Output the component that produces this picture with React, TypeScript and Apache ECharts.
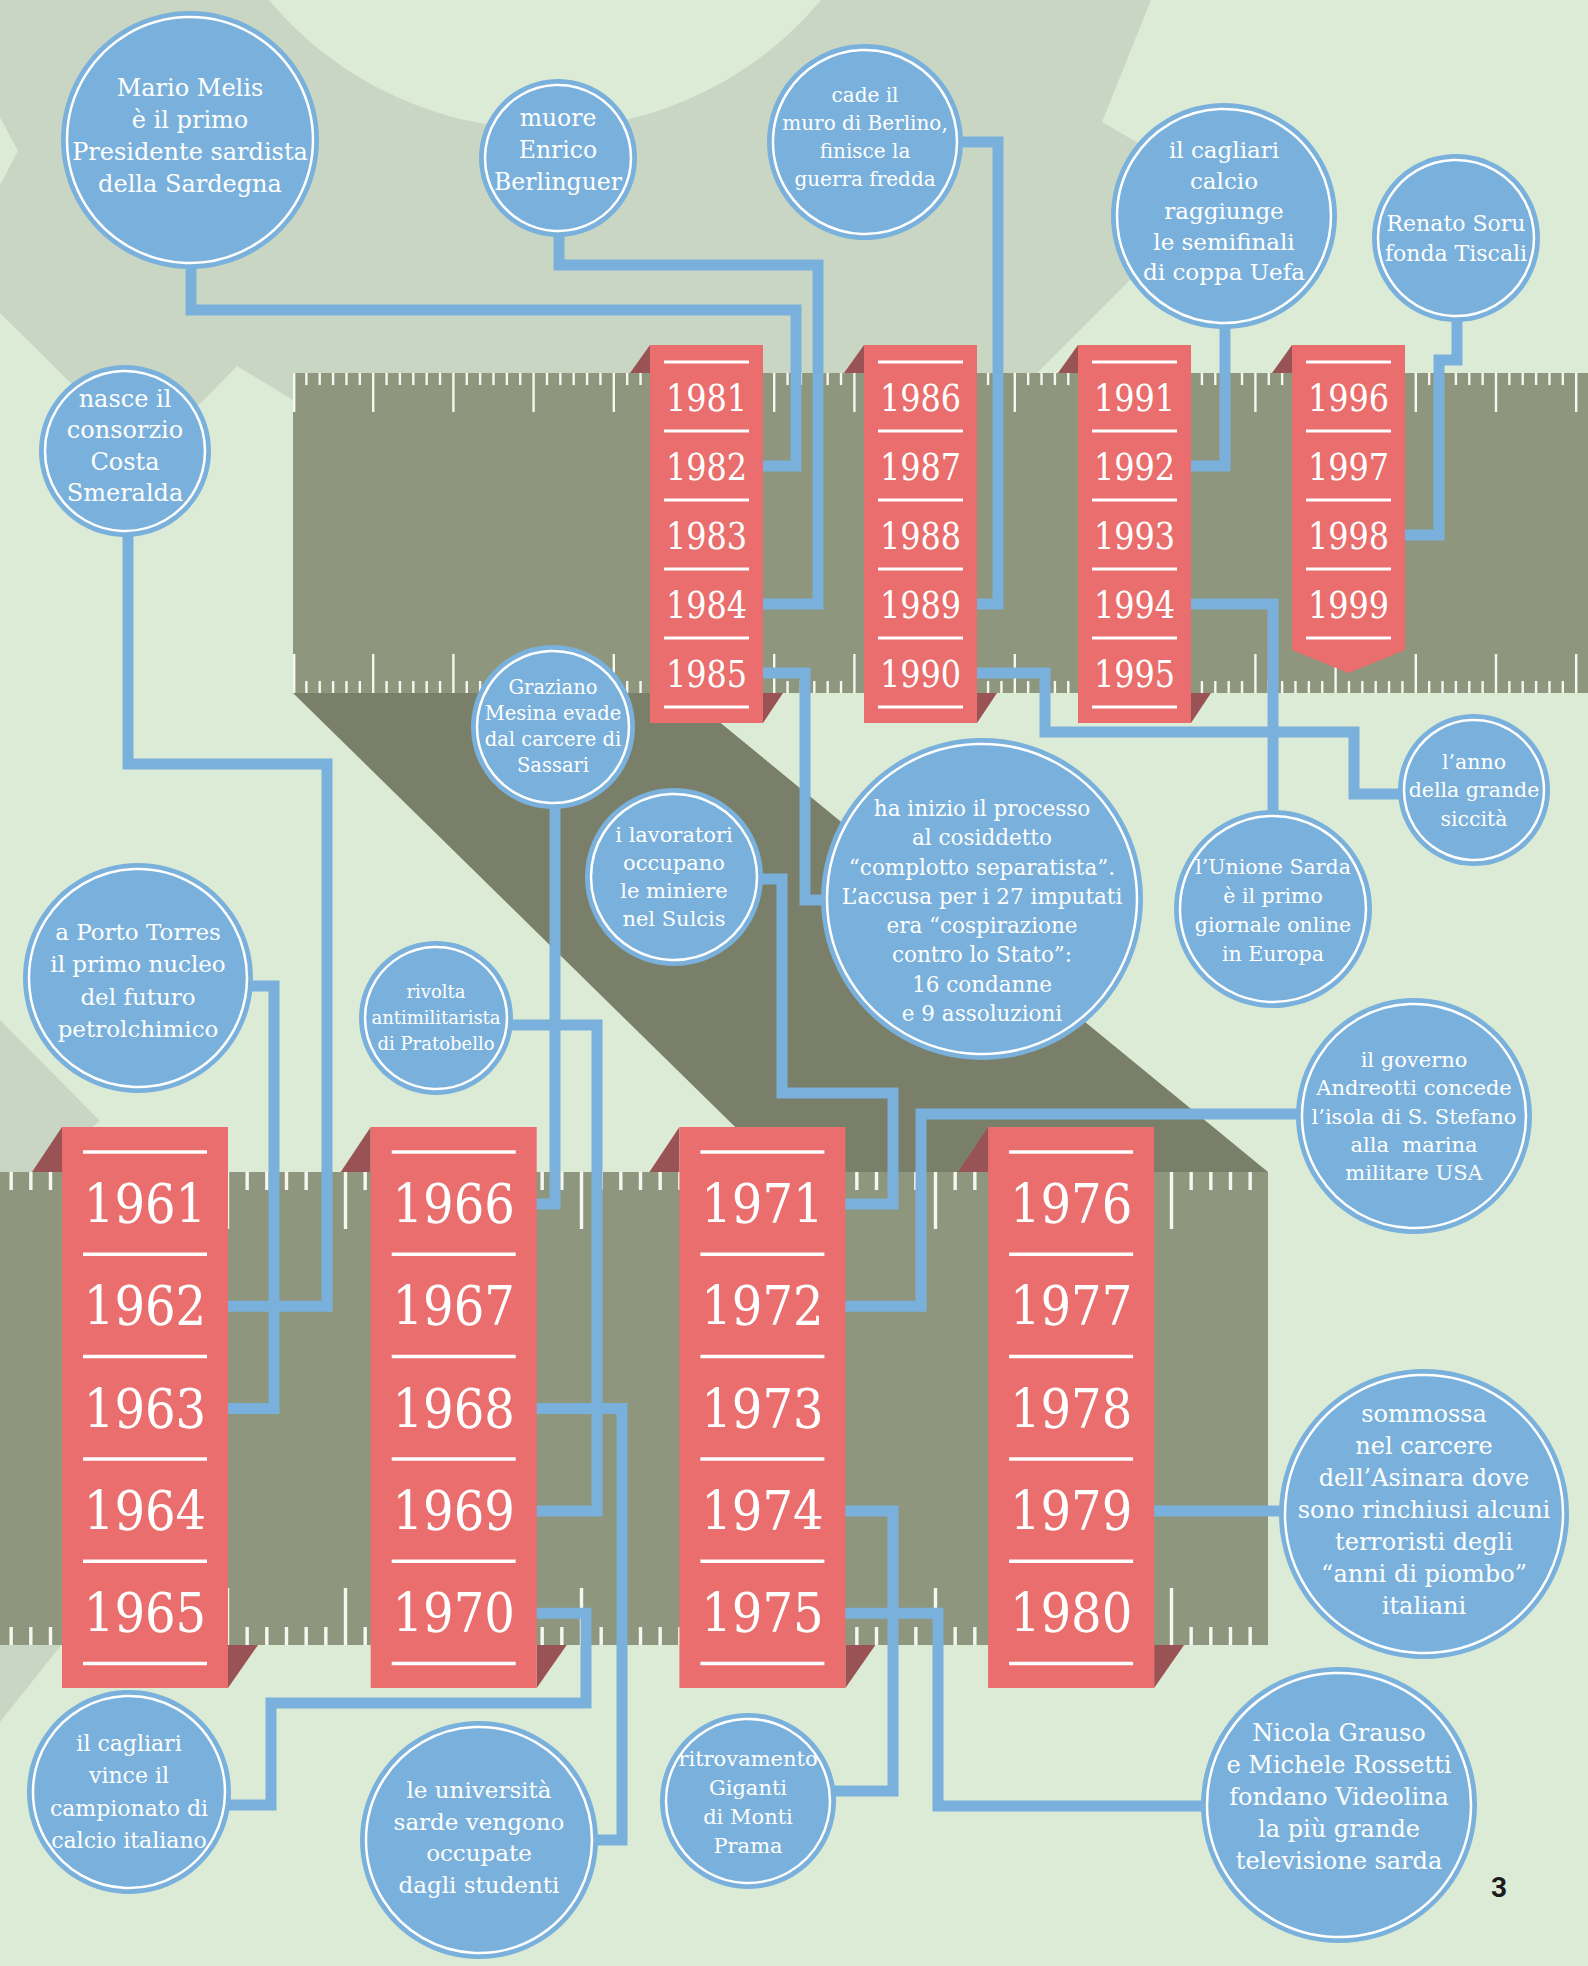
import React, { useEffect, useRef } from "react";
import * as echarts from "echarts";

// ---------------- data ----------------
const topYearGroups: number[][] = [
  [1981, 1982, 1983, 1984, 1985],
  [1986, 1987, 1988, 1989, 1990],
  [1991, 1992, 1993, 1994, 1995],
  [1996, 1997, 1998, 1999],
];
const bottomYearGroups: number[][] = [
  [1961, 1962, 1963, 1964, 1965],
  [1966, 1967, 1968, 1969, 1970],
  [1971, 1972, 1973, 1974, 1975],
  [1976, 1977, 1978, 1979, 1980],
];
const eventYears: number[] = [
  1982, 1984, 1989, 1992, 1998, 1962, 1966, 1971, 1985, 1994, 1990, 1963, 1969, 1972, 1979, 1970, 1968, 1974, 1975,
];
const eventTexts: string[][] = [
  ["Mario Melis", "è il primo", "Presidente sardista", "della Sardegna"],
  ["muore", "Enrico", "Berlinguer"],
  ["cade il", "muro di Berlino,", "finisce la", "guerra fredda"],
  ["il cagliari", "calcio", "raggiunge", "le semifinali", "di coppa Uefa"],
  ["Renato Soru", "fonda Tiscali"],
  ["nasce il", "consorzio", "Costa", "Smeralda"],
  ["Graziano", "Mesina evade", "dal carcere di", "Sassari"],
  ["i lavoratori", "occupano", "le miniere", "nel Sulcis"],
  [
    "ha inizio il processo",
    "al cosiddetto",
    "“complotto separatista”.",
    "L’accusa per i 27 imputati",
    "era “cospirazione",
    "contro lo Stato”:",
    "16 condanne",
    "e 9 assoluzioni",
  ],
  ["l’Unione Sarda", "è il primo", "giornale online", "in Europa"],
  ["l’anno", "della grande", "siccità"],
  ["a Porto Torres", "il primo nucleo", "del futuro", "petrolchimico"],
  ["rivolta", "antimilitarista", "di Pratobello"],
  ["il governo", "Andreotti concede", "l’isola di S. Stefano", "alla  marina", "militare USA"],
  [
    "sommossa",
    "nel carcere",
    "dell’Asinara dove",
    "sono rinchiusi alcuni",
    "terroristi degli",
    "“anni di piombo”",
    "italiani",
  ],
  ["il cagliari", "vince il", "campionato di", "calcio italiano"],
  ["le università", "sarde vengono", "occupate", "dagli studenti"],
  ["ritrovamento", "Giganti", "di Monti", "Prama"],
  ["Nicola Grauso", "e Michele Rossetti", "fondano Videolina", "la più grande", "televisione sarda"],
];
const pageNumber = "3";

// ---------------- layout / style ----------------
const W = 1588;
const H = 1966;
const BG = "#dcebd5";
const GEAR = "#cad6c4";
const RULER = "#8e967e";
const SHADOW = "#7a7f6a";
const RIBBON = "#ea6e6d";
const FOLD = "#9a5355";
const BLUE = "#7ab1dc";
const WHITE = "#ffffff";
const TICK = "#f6f7f0";
const SERIF = '"DejaVu Serif", serif';

const TOP = {
  x0: 650, step: 214, w: 113, y0: 345, y1: 723, rowY0: 397, rowStep: 69,
  lineY0: 362, inset: 14, lineH: 3, fs: 38, sx: 0.84, fold: 20,
  rulerTop: 373, rulerBottom: 693, rulerX0: 293, rulerX1: W,
  tickStart: 293, tickStep: 80.2 / 6, shortL: 12, longL: 39, tickW: 2.4,
};
const BOT = {
  x0: 62, step: 308.7, w: 166, y0: 1127, y1: 1688, rowY0: 1204, rowStep: 102.3,
  lineY0: 1152, inset: 21, lineH: 3.5, fs: 55, sx: 0.875, fold: 30,
  rulerTop: 1172, rulerBottom: 1645, rulerX0: 0, rulerX1: 1268,
  tickStart: -8.5, tickStep: 118 / 6, shortL: 18, longL: 57, tickW: 3.4,
};

// bubble layout: circle, text size, line height, text offset, connector route
const bubbleLayout = [
  { cx: 190, cy: 140, r: 129, fs: 24, lh: 32, dy: -4, x1: 796, via: [[796, 310], [191, 310], [191, 255]] },
  { cx: 558, cy: 158, r: 79, fs: 23.5, lh: 32, dy: -8, x1: 818, via: [[818, 265], [559, 265], [559, 225]] },
  { cx: 865, cy: 142, r: 98, fs: 20, lh: 28.3, dy: -5, x1: 998, via: [[998, 142], [945, 142]] },
  { cx: 1224, cy: 216, r: 113, fs: 23, lh: 30.5, dy: -5, x1: 1225, via: [[1225, 315]] },
  { cx: 1456, cy: 238, r: 84, fs: 22, lh: 30, dy: 0, x1: 1439, via: [[1439, 360], [1457, 360], [1457, 310]] },
  { cx: 125, cy: 451, r: 86, fs: 24, lh: 31.3, dy: -5, x1: 327, via: [[327, 764], [128, 764], [128, 520]] },
  { cx: 553, cy: 727, r: 82, fs: 19.5, lh: 26, dy: -1, x1: 555, via: [[555, 795]] },
  { cx: 674, cy: 877, r: 89, fs: 21, lh: 28.3, dy: 0, x1: 893, via: [[893, 1093], [782, 1093], [782, 879], [750, 879]] },
  { cx: 982, cy: 899, r: 161, fs: 21.5, lh: 29.3, dy: 12, x1: 805, via: [[805, 900], [840, 900]] },
  { cx: 1273, cy: 909, r: 99, fs: 20.5, lh: 29, dy: 1.5, x1: 1273, via: [[1273, 830]] },
  { cx: 1474, cy: 790, r: 76, fs: 20.5, lh: 28.5, dy: 0, x1: 1045, via: [[1045, 732], [1354, 732], [1354, 794], [1410, 794]] },
  { cx: 138, cy: 978, r: 115, fs: 23, lh: 32.3, dy: 2.5, x1: 274, via: [[274, 986], [240, 986]] },
  { cx: 436, cy: 1018, r: 77, fs: 18, lh: 26, dy: -1, x1: 597, via: [[597, 1025], [500, 1025]] },
  { cx: 1414, cy: 1116, r: 118, fs: 21, lh: 28.2, dy: 0.5, x1: 921, via: [[921, 1114], [1310, 1114]] },
  { cx: 1424, cy: 1514, r: 145, fs: 24, lh: 32, dy: -4, x1: 1290, via: [] },
  { cx: 129, cy: 1792, r: 102, fs: 22, lh: 32.3, dy: 0, x1: 586, via: [[586, 1703], [271, 1703], [271, 1805], [215, 1805]] },
  { cx: 479, cy: 1840, r: 119, fs: 23, lh: 31.7, dy: -2.5, x1: 622, via: [[622, 1840], [585, 1840]] },
  { cx: 748, cy: 1801, r: 88, fs: 21, lh: 29, dy: 1, x1: 893, via: [[893, 1791], [820, 1791]] },
  { cx: 1339, cy: 1805, r: 138, fs: 24, lh: 32, dy: -8, x1: 938, via: [[938, 1806], [1215, 1806]] },
];

const gearTop = [
  [0, 0], [1151, 0], [1102, 122], [1150, 150], [1260, 150], [1038, 372], [1038, 400], [293, 400],
  [237, 366], [200, 404], [90, 402], [0, 313], [0, 185], [18, 151], [0, 117],
];
const gearLeftA = [[0, 1020], [100, 1121], [32, 1172], [0, 1172]];
const gearLeftB = [[0, 1644], [62, 1644], [0, 1722]];
const shadowPoly = [[293, 693], [684, 693], [1268, 1172], [781, 1172]];

function locate(year: number) {
  for (let g = 0; g < topYearGroups.length; g++) {
    const i = topYearGroups[g].indexOf(year);
    if (i >= 0) return { band: TOP, g, i };
  }
  for (let g = 0; g < bottomYearGroups.length; g++) {
    const i = bottomYearGroups[g].indexOf(year);
    if (i >= 0) return { band: BOT, g, i };
  }
  return null;
}

function buildElements() {
  const els: any[] = [];
  els.push({ type: "polygon", silent: true, shape: { points: gearTop }, style: { fill: GEAR } });
  els.push({ type: "circle", silent: true, shape: { cx: 545, cy: -231, r: 360 }, style: { fill: BG } });
  els.push({ type: "polygon", silent: true, shape: { points: gearLeftA }, style: { fill: GEAR } });
  els.push({ type: "polygon", silent: true, shape: { points: gearLeftB }, style: { fill: GEAR } });
  els.push({ type: "polygon", silent: true, shape: { points: shadowPoly }, style: { fill: SHADOW } });

  [TOP, BOT].forEach((b) => {
    els.push({
      type: "rect", silent: true,
      shape: { x: b.rulerX0, y: b.rulerTop, width: b.rulerX1 - b.rulerX0, height: b.rulerBottom - b.rulerTop },
      style: { fill: RULER },
    });
    for (let k = 0; ; k++) {
      const x = b.tickStart + b.tickStep * k;
      if (x > b.rulerX1) break;
      if (x < b.rulerX0 + 0.5 && !(b === TOP && k === 0)) continue;
      const L = k % 6 === 0 ? b.longL : b.shortL;
      const xx = b === TOP && k === 0 ? x : x - b.tickW / 2;
      els.push({ type: "rect", silent: true, shape: { x: xx, y: b.rulerTop, width: b.tickW, height: L }, style: { fill: TICK } });
      els.push({ type: "rect", silent: true, shape: { x: xx, y: b.rulerBottom - L, width: b.tickW, height: L }, style: { fill: TICK } });
    }
  });

  eventYears.forEach((yr, idx) => {
    const loc = locate(yr);
    if (!loc) return;
    const lay = bubbleLayout[idx];
    const b = loc.band;
    const edge = b.x0 + b.step * loc.g + b.w - 4;
    const ry = b.rowY0 + b.rowStep * loc.i;
    const pts = [[edge, ry], [lay.x1, ry], ...lay.via];
    els.push({
      type: "polyline", silent: true, shape: { points: pts },
      style: { stroke: BLUE, lineWidth: 11, fill: "none", lineJoin: "miter", lineCap: "butt" },
    });
  });

  const drawBand = (b: any, groups: number[][]) => {
    groups.forEach((grp, g) => {
      const X = b.x0 + b.step * g;
      const full = grp.length === 5;
      els.push({
        type: "polygon", silent: true,
        shape: { points: [[X - b.fold, b.rulerTop], [X, b.y0], [X, b.rulerTop]] },
        style: { fill: FOLD },
      });
      if (full) {
        els.push({
          type: "polygon", silent: true,
          shape: { points: [[X + b.w, b.rulerBottom], [X + b.w + b.fold, b.rulerBottom], [X + b.w, b.y1]] },
          style: { fill: FOLD },
        });
        els.push({ type: "rect", silent: true, shape: { x: X, y: b.y0, width: b.w, height: b.y1 - b.y0 }, style: { fill: RIBBON } });
      } else {
        els.push({
          type: "polygon", silent: true,
          shape: { points: [[X, b.y0], [X + b.w, b.y0], [X + b.w, 650], [X + b.w / 2, 673], [X, 650]] },
          style: { fill: RIBBON },
        });
      }
      for (let k = 0; k < grp.length + 1; k++) {
        const ly = b.lineY0 + b.rowStep * k;
        els.push({
          type: "rect", silent: true,
          shape: { x: X + b.inset, y: ly - b.lineH / 2, width: b.w - 2 * b.inset, height: b.lineH },
          style: { fill: WHITE },
        });
      }
      grp.forEach((yr, i) => {
        els.push({
          type: "text", silent: true, x: X + b.w / 2, y: b.rowY0 + b.rowStep * i, scaleX: b.sx,
          style: { text: String(yr), fill: WHITE, fontSize: b.fs, fontFamily: SERIF, align: "center", verticalAlign: "middle" },
        });
      });
    });
  };
  drawBand(TOP, topYearGroups);
  drawBand(BOT, bottomYearGroups);

  eventTexts.forEach((lines, idx) => {
    const L = bubbleLayout[idx];
    els.push({ type: "circle", silent: true, shape: { cx: L.cx, cy: L.cy, r: L.r }, style: { fill: BLUE } });
    els.push({
      type: "circle", silent: true, shape: { cx: L.cx, cy: L.cy, r: L.r - 6 },
      style: { fill: "none", stroke: WHITE, lineWidth: 2.5 },
    });
    const n = lines.length;
    lines.forEach((t, i) => {
      els.push({
        type: "text", silent: true, x: L.cx, y: L.cy + L.dy + (i - (n - 1) / 2) * L.lh,
        style: { text: t, fill: WHITE, fontSize: L.fs, fontFamily: SERIF, align: "center", verticalAlign: "middle" },
      });
    });
  });

  els.push({
    type: "text", silent: true, x: 1499, y: 1887,
    style: { text: pageNumber, fill: "#1c1c1c", fontSize: 28, fontWeight: "bold", fontFamily: "Roboto, sans-serif", align: "center", verticalAlign: "middle" },
  });
  return els;
}

export default function App() {
  const ref = useRef<HTMLDivElement>(null);
  useEffect(() => {
    if (!ref.current) return;
    const chart = echarts.init(ref.current, null, { renderer: "svg", width: W, height: H });
    chart.setOption({
      animation: false,
      backgroundColor: BG,
      graphic: { elements: buildElements() },
    });
    return () => chart.dispose();
  }, []);
  return <div ref={ref} style={{ position: "absolute", left: 0, top: 0, width: W, height: H }} />;
}
